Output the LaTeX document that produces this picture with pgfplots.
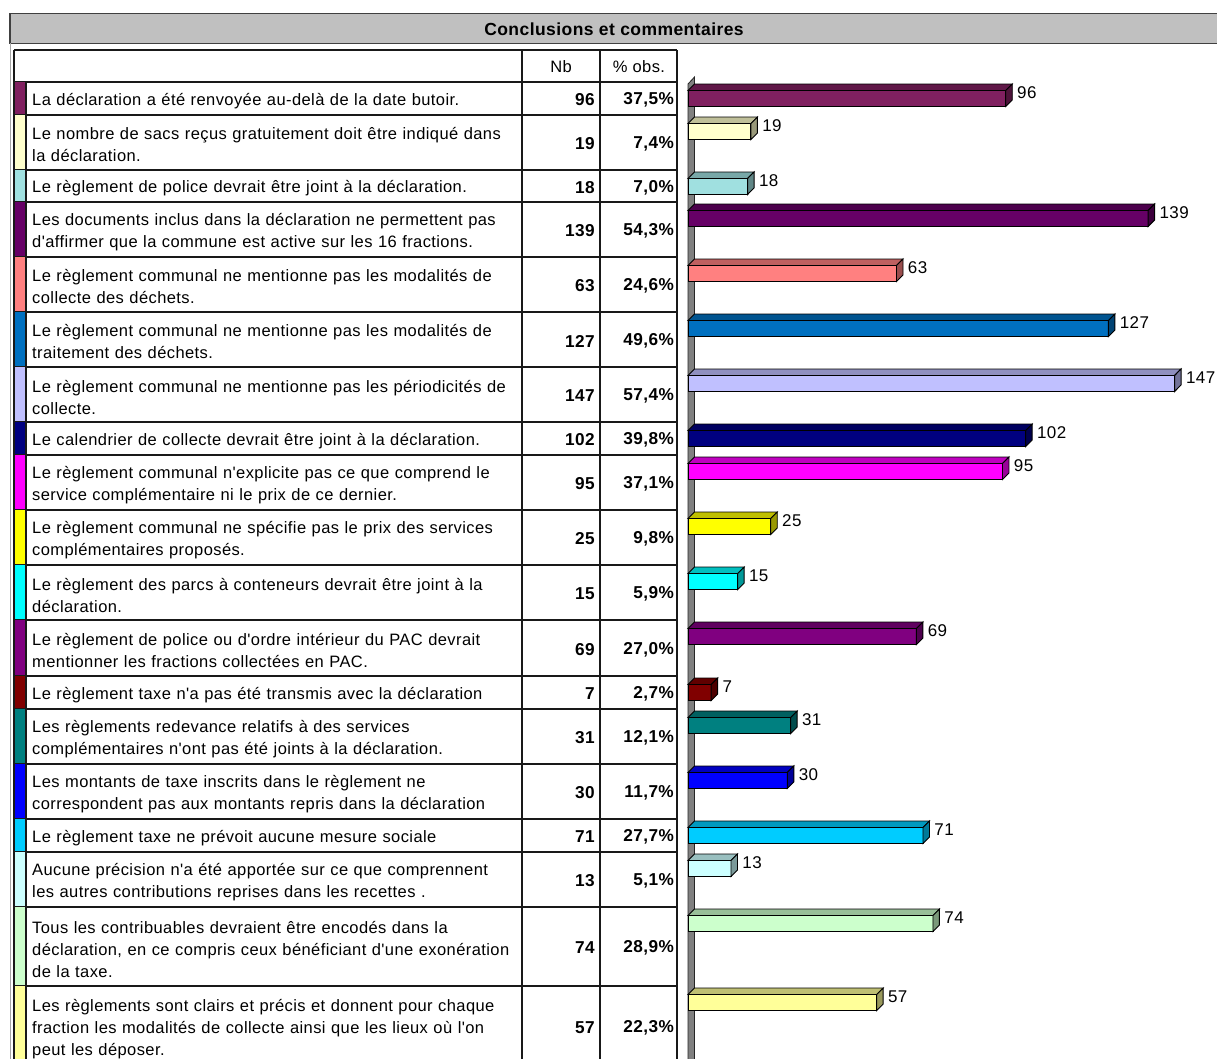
\documentclass[border=0pt]{standalone}
\usepackage{fontspec}
\setmainfont{Liberation Sans}[LetterSpace=2.5, Ligatures=TeXOff]
\usepackage{pgfplots}
\pgfplotsset{compat=1.18}

\definecolor{c1}{HTML}{802060}
\definecolor{c2}{HTML}{FFFFCC}
\definecolor{c3}{HTML}{A0E0E0}
\definecolor{c4}{HTML}{660066}
\definecolor{c5}{HTML}{FF8080}
\definecolor{c6}{HTML}{0070C0}
\definecolor{c7}{HTML}{C0C0FF}
\definecolor{c8}{HTML}{000080}
\definecolor{c9}{HTML}{FF00FF}
\definecolor{c10}{HTML}{FFFF00}
\definecolor{c11}{HTML}{00FFFF}
\definecolor{c12}{HTML}{800080}
\definecolor{c13}{HTML}{800000}
\definecolor{c14}{HTML}{008080}
\definecolor{c15}{HTML}{0000FF}
\definecolor{c16}{HTML}{00CCFF}
\definecolor{c17}{HTML}{CCFFFF}
\definecolor{c18}{HTML}{CCFFCC}
\definecolor{c19}{HTML}{FFFF99}
\definecolor{titlebg}{HTML}{C0C0C0}

\newcommand\fs{\fontsize{16.5bp}{22bp}\selectfont}
\newcommand\fb{\fontsize{17.2bp}{22bp}\selectfont\bfseries}

% one table row: top, bottom, colour, text, Nb, % obs.
\newcommand\row[6]{%
  \fill[#3] (14,#1) rectangle (26,#2);
  \draw[tl] (14,#2) -- (677,#2);
  \node[anchor=west, text width=520bp, align=left, inner sep=0pt] at (32,{(#1+#2)/2+2.5}) {#4};
  \node[anchor=east, inner sep=0pt, font=\fb] at (595,{(#1+#2)/2+1.5}) {#5};
  \node[anchor=east, inner sep=0pt, font=\fb] at (674,{(#1+#2)/2+1.5}) {#6};
}

% 3D bar: colour, value, y centre
\newcommand\tdbar[3]{%
  \pgfmathsetmacro\xe{#2+1.96}%
  \pgfmathsetmacro\yt{#3-8}%
  \pgfmathsetmacro\yb{#3+8}%
  \pgfmathsetmacro\ytt{#3-14.5}%
  \pgfmathsetmacro\ybb{#3+1.5}%
  \addplot[xbar, bar shift=0pt, bar width=16, fill=#1, draw=black, line width=0.9bp, mark=none,
    nodes near coords] coordinates {(#2,#3)};
  \addplot[fill=#1!75!black, draw=black, line width=0.9bp, mark=none]
    coordinates {(0,\yt) (#2,\yt) (\xe,\ytt) (1.96,\ytt)} -- cycle;
  \addplot[fill=#1!60!black, draw=black, line width=0.9bp, mark=none]
    coordinates {(#2,\yt) (\xe,\ytt) (\xe,\ybb) (#2,\yb)} -- cycle;
}

\begin{document}
\begin{tikzpicture}[x=1bp, y=-1bp,
  every node/.style={font=\fs},
  tl/.style={line width=1.2bp, draw=black!90}]
\useasboundingbox (0,0) rectangle (1217,1059);
\fill[white] (0,0) rectangle (1217,1059);

% title bar
\draw[fill=titlebg, draw=black!75, line width=1.2bp] (10,13.5) rectangle (1222,43.3);
\node[font=\fontsize{17.5bp}{22bp}\selectfont\bfseries] at (614,29.5) {Conclusions et commentaires};
\draw[black!35, line width=0.8bp] (10.5,43.3) -- (10.5,1062);

% table header
\draw[tl] (14,50) -- (677,50);
\draw[tl] (14,82) -- (677,82);
\node at (561,67) {Nb};
\node at (639,67) {\% obs.};

\row{82}{115}{c1}{La déclaration a été renvoyée au-delà de la date butoir.}{96}{37,5\%}
\row{115}{170}{c2}{Le nombre de sacs reçus gratuitement doit être indiqué dans\\la déclaration.}{19}{7,4\%}
\row{170}{202}{c3}{Le règlement de police devrait être joint à la déclaration.}{18}{7,0\%}
\row{202}{257}{c4}{Les documents inclus dans la déclaration ne permettent pas\\d'affirmer que la commune est active sur les 16 fractions.}{139}{54,3\%}
\row{257}{312}{c5}{Le règlement communal ne mentionne pas les modalités de\\collecte des déchets.}{63}{24,6\%}
\row{312}{367}{c6}{Le règlement communal ne mentionne pas les modalités de\\traitement des déchets.}{127}{49,6\%}
\row{367}{422}{c7}{Le règlement communal ne mentionne pas les périodicités de\\collecte.}{147}{57,4\%}
\row{422}{455}{c8}{Le calendrier de collecte devrait être joint à la déclaration.}{102}{39,8\%}
\row{455}{510}{c9}{Le règlement communal n'explicite pas ce que comprend le\\service complémentaire ni le prix de ce dernier.}{95}{37,1\%}
\row{510}{565}{c10}{Le règlement communal ne spécifie pas le prix des services\\complémentaires proposés.}{25}{9,8\%}
\row{565}{620}{c11}{Le règlement des parcs à conteneurs devrait être joint à la\\déclaration.}{15}{5,9\%}
\row{620}{676}{c12}{Le règlement de police ou d'ordre intérieur du PAC devrait\\mentionner les fractions collectées en PAC.}{69}{27,0\%}
\row{676}{709}{c13}{Le règlement taxe n'a pas été transmis avec la déclaration}{7}{2,7\%}
\row{709}{764}{c14}{Les règlements redevance relatifs à des services\\complémentaires n'ont pas été joints à la déclaration.}{31}{12,1\%}
\row{764}{819}{c15}{Les montants de taxe inscrits dans le règlement ne\\correspondent pas aux montants repris dans la déclaration}{30}{11,7\%}
\row{819}{852}{c16}{Le règlement taxe ne prévoit aucune mesure sociale}{71}{27,7\%}
\row{852}{907}{c17}{Aucune précision n'a été apportée sur ce que comprennent\\les autres contributions reprises dans les recettes .}{13}{5,1\%}
\row{907}{986}{c18}{Tous les contribuables devraient être encodés dans la\\déclaration, en ce compris ceux bénéficiant d'une exonération\\de la taxe.}{74}{28,9\%}
\row{986}{1067}{c19}{Les règlements sont clairs et précis et donnent pour chaque\\fraction les modalités de collecte ainsi que les lieux où l'on\\peut les déposer.}{57}{22,3\%}

% table verticals
\draw[tl] (14,50) -- (14,1067);
\draw[tl] (26,82) -- (26,1067);
\draw[tl] (522,50) -- (522,1067);
\draw[tl] (600,50) -- (600,1067);
\draw[tl] (677,50) -- (677,1067);

% chart wall
\draw[fill=black!50, draw=black!85, line width=0.8bp] (688,1067) -- (688,84) -- (694.5,77) -- (694.5,1067);

\begin{axis}[at={(688bp,0bp)}, anchor=north west, scale only axis,
  width=529.6bp, height=1059bp, xmin=0, xmax=160, ymin=0, ymax=1059,
  y dir=reverse, hide axis, clip=false,
  /pgf/number format/assume math mode=true,
  nodes near coords style={anchor=west, inner sep=0pt, xshift=11bp, yshift=6bp, text=black,
    font=\fontsize{17bp}{22bp}\selectfont}]
\tdbar{c1}{96}{98.5}
\tdbar{c2}{19}{131.5}
\tdbar{c3}{18}{186.5}
\tdbar{c4}{139}{218.5}
\tdbar{c5}{63}{273.5}
\tdbar{c6}{127}{328.5}
\tdbar{c7}{147}{383.5}
\tdbar{c8}{102}{438.5}
\tdbar{c9}{95}{471.5}
\tdbar{c10}{25}{526.5}
\tdbar{c11}{15}{581.5}
\tdbar{c12}{69}{636.5}
\tdbar{c13}{7}{692.5}
\tdbar{c14}{31}{725.5}
\tdbar{c15}{30}{780.5}
\tdbar{c16}{71}{835.5}
\tdbar{c17}{13}{868.5}
\tdbar{c18}{74}{923.5}
\tdbar{c19}{57}{1002.5}
\end{axis}
\end{tikzpicture}
\end{document}
